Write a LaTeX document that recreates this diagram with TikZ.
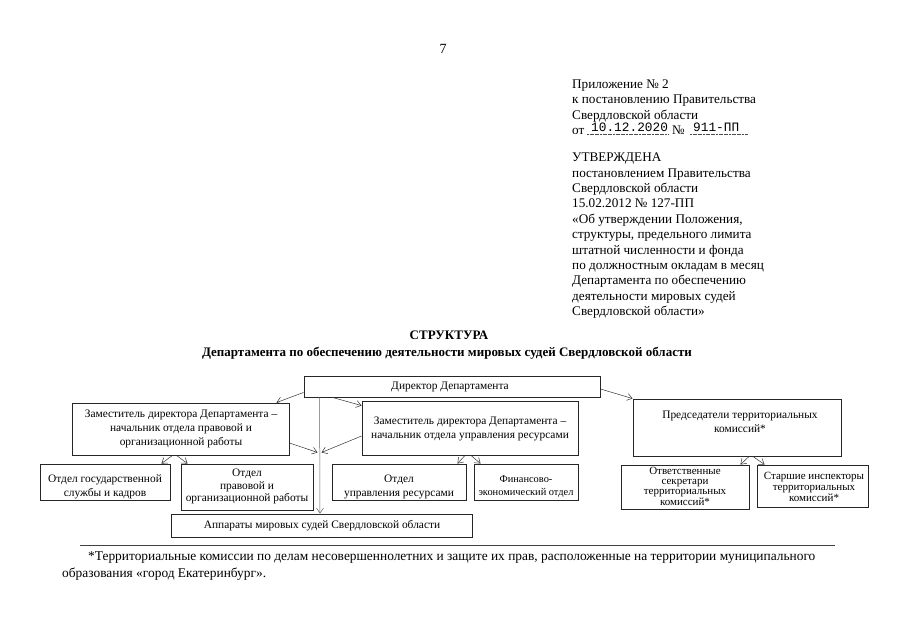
\documentclass[tikz,border=0pt]{standalone}
\usepackage{fontspec}
\setmainfont{Liberation Serif}
\newfontfamily\monof{Liberation Mono}
\usetikzlibrary{arrows.meta,calc}
\begin{document}
\begin{tikzpicture}[x=1pt,y=-1pt,
  box/.style={draw=black!85, line width=0.9pt, inner sep=0pt},
  btxt/.style={align=center, font=\fontsize{11.4}{14}\selectfont, inner sep=0pt},
  hdr/.style={anchor=base west, inner sep=0pt, font=\fontsize{13.2}{15.5}\selectfont},
  arr/.style={draw=black!80, line width=0.5pt, -{Straight Barb[length=5pt,width=7pt]}}
]
\useasboundingbox[fill=white] (0,0) rectangle (905,640);

% page number
\node[inner sep=0pt, anchor=base, font=\fontsize{14}{16}\selectfont] (pg) at (443,53) {7};

% header block 1
\node[hdr] (h1) at (572,88) {Приложение № 2};
\node[hdr] (h2) at (572,103.5) {к постановлению Правительства};
\node[hdr] (h3) at (572,119) {Свердловской области};
\node[hdr] (h4) at (572,134) {от};
\node[anchor=base west, inner sep=0pt, font=\monof\fontsize{12.8}{14}\selectfont] (hdate) at (591,131) {10.12.2020};
\node[hdr] (h4n) at (672,134) {№};
\node[anchor=base west, inner sep=0pt, font=\monof\fontsize{12.8}{14}\selectfont] (hnum) at (693,131) {911-ПП};
\draw[black!70, line width=0.5pt, dash pattern=on 2pt off 0.6pt] (587,134.5) -- (669,134.5);
\draw[black!70, line width=0.5pt, dash pattern=on 2pt off 0.6pt] (690,134.5) -- (748,134.5);

% header block 2
\node[hdr] (g1) at (572,161.5) {УТВЕРЖДЕНА};
\node[hdr] (g2) at (572,177) {постановлением Правительства};
\node[hdr] (g3) at (572,192.4) {Свердловской области};
\node[hdr] (g4) at (572,207.8) {15.02.2012 № 127-ПП};
\node[hdr] (g5) at (572,223.2) {«Об утверждении Положения,};
\node[hdr] (g6) at (572,238.6) {структуры, предельного лимита};
\node[hdr] (g7) at (572,254) {штатной численности и фонда};
\node[hdr] (g8) at (572,269.4) {по должностным окладам в месяц};
\node[hdr] (g9) at (572,284.8) {Департамента по обеспечению};
\node[hdr] (g10) at (572,300.2) {деятельности мировых судей};
\node[hdr] (g11) at (572,315.6) {Свердловской области»};

% title
\node[anchor=base, inner sep=0pt, font=\bfseries\fontsize{13}{15}\selectfont] (t1) at (449,339) {СТРУКТУРА};
\node[anchor=base, inner sep=0pt, font=\bfseries\fontsize{13}{15}\selectfont] (t2) at (447,356) {Департамента по обеспечению деятельности мировых судей Свердловской области};

% boxes
\node[box, minimum width=296pt, minimum height=21pt] (dir) at (452,386.5) {};
\node[btxt] (dirT) at (450,387) {Директор Департамента};

\node[box, minimum width=217pt, minimum height=52pt] (dep1) at (180.5,429) {};
\node[btxt] (dep1T) at (181,428.5) {Заместитель директора Департамента –\\начальник отдела правовой и\\организационной работы};

\node[box, minimum width=216pt, minimum height=54pt] (dep2) at (470,428) {};
\node[btxt] (dep2T) at (470,428.5) {Заместитель директора Департамента –\\начальник отдела управления ресурсами};

\node[box, minimum width=208pt, minimum height=57pt] (chairs) at (737,427.5) {};
\node[btxt] (chairsT) at (740,421.5) {Председатели территориальных\\комиссий*};

\node[box, minimum width=130pt, minimum height=36pt] (gos) at (105,482) {};
\node[btxt] (gosT) at (105,487) {Отдел государственной\\службы и кадров};

\node[box, minimum width=132pt, minimum height=46pt] (prav) at (247,487) {};
\node[btxt, font=\fontsize{11.4}{12.5}\selectfont] (pravT) at (247,486.5) {Отдел\\правовой и\\организационной работы};

\node[box, minimum width=134pt, minimum height=36pt] (res) at (399,482) {};
\node[btxt] (resT) at (399,487) {Отдел\\управления ресурсами};

\node[box, minimum width=104pt, minimum height=36pt] (fin) at (526,482) {};
\node[btxt, font=\fontsize{10.4}{13}\selectfont] (finT) at (526,487) {Финансово-\\экономический отдел};

\node[box, minimum width=128pt, minimum height=44pt] (otv) at (685,487) {};
\node[btxt, font=\fontsize{11}{9.8}\selectfont] (otvT) at (685,486.5) {Ответственные\\секретари\\территориальных\\комиссий*};

\node[box, minimum width=111pt, minimum height=42pt] (star) at (812.5,486) {};
\node[btxt, font=\fontsize{11}{11}\selectfont] (starT) at (814,487) {Старшие инспекторы\\территориальных\\комиссий*};

\node[box, minimum width=301pt, minimum height=23pt] (app) at (321.5,525.5) {};
\node[btxt] (appT) at (322,526) {Аппараты мировых судей Свердловской области};

% connectors
\coordinate (J1) at ($(dir.south west)+(14,55)$);
\coordinate (J2) at ($(dir.south west)+(18,55)$);
\draw[arr] ($(dir.south west)+(0,-5)$) -- ($(dep1.north east)+(-13,0)$);
\draw[arr] ($(dir.south west)+(29,0)$) -- ($(dep2.north west)+(0,5)$);
\draw[arr] ($(dir.east)+(0,2.5)$) -- (chairs.north west);
\draw[arr, draw=black!60] ($(dir.south west)+(16,0)$) -- ($(app.north)+(-1.5,0)$);
\draw[arr] ($(dep1.east)+(0,14)$) -- (J1);
\draw[arr] ($(dep2.west)+(0,8)$) -- (J2);

\draw[arr] ($(dep1.south)+(-8,0)$) -- ($(gos.north east)+(-9,0)$);
\draw[arr] ($(dep1.south)+(-4,0)$) -- ($(prav.north west)+(7,0)$);
\draw[arr] ($(dep2.south)+(-5,0)$) -- ($(res.north east)+(-9,0)$);
\draw[arr] ($(dep2.south)+(1,0)$) -- ($(fin.north west)+(7,0)$);
\draw[arr] ($(chairs.south)+(12,0)$) -- ($(otv.north east)+(-9,0)$);
\draw[arr] ($(chairs.south)+(16,0)$) -- ($(star.north west)+(8,0)$);

% footnote
\draw[black!75, line width=0.6pt] (80,545) -- (835,545);
\node[hdr, font=\fontsize{13.4}{15.5}\selectfont] (f1) at (88,560) {*Территориальные комиссии по делам несовершеннолетних и защите их прав, расположенные на территории муниципального};
\node[hdr, font=\fontsize{13.4}{15.5}\selectfont] (f2) at (62,577) {образования «город Екатеринбург».};
\end{tikzpicture}
\end{document}
